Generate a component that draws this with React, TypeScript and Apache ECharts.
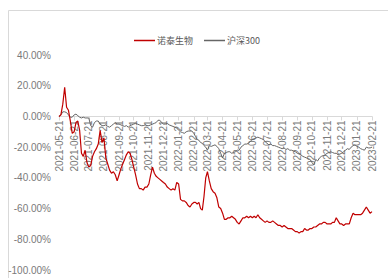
import React, { useEffect, useRef } from "react";
import * as echarts from "echarts";

// Monthly tick dates shown on the x axis
const monthLabels: string[] = [
  "2021-05-21", "2021-06-21", "2021-07-21", "2021-08-21", "2021-09-21", "2021-10-21",
  "2021-11-21", "2021-12-21", "2022-01-21", "2022-02-21", "2022-03-21", "2022-04-21",
  "2022-05-21", "2022-06-21", "2022-07-21", "2022-08-21", "2022-09-21", "2022-10-21",
  "2022-11-21", "2022-12-21", "2023-01-21", "2023-02-21",
];

const seriesNames = ["诺泰生物", "沪深300"];

// 8 readings per month interval (plus the final point), cumulative return in %
const ntValues: number[] = [
  0, 1, 8, 19, 6, 4, -3, -11,
  -10, -4, -3, -9, -24, -26, -22, -30,
  -33, -32, -26, -23, -21, -18, -9, -17,
  -14, -27, -31, -35, -37, -36, -38, -42,
  -38, -34, -31, -28, -25, -23, -24, -28,
  -33, -38, -44, -47, -47, -48, -46, -46,
  -44, -38, -33, -37, -39, -40, -41, -42,
  -43, -44, -46, -47, -48, -47, -48, -43,
  -44, -54, -55, -55, -56, -58, -59, -57,
  -56, -56, -57, -56, -60, -61, -52, -40,
  -36, -42, -47, -49, -50, -53, -59, -60,
  -63, -67, -67, -66, -66, -65, -66, -67,
  -69, -70, -68, -66, -66, -65, -66, -65,
  -66, -65, -66, -64, -66, -67, -68, -69,
  -68, -69, -69, -68, -69, -70, -71, -71,
  -72, -71, -72, -73, -73, -73, -74, -75,
  -75, -76, -75, -75, -73, -74, -74, -73,
  -73, -72, -72, -71, -70, -70, -69, -69,
  -70, -70, -70, -69, -69, -66, -68, -70,
  -70, -71, -70, -70, -70, -66, -63, -64,
  -64, -64, -64, -63, -61, -59, -61, -63,
  -62,
];

const hsValues: number[] = [
  0, 1, 3, 3, 2.5, 1, -0.5, -0.5,
  1, 1.5, 0.5, -0.5, -1, -0.5, -1, -1,
  -1, -6, -7, -4, -3, -3, -5, -6,
  -6, -5.5, -6.5, -7, -6, -5, -4, -5,
  -5, -5.5, -6, -6.5, -6, -7, -6, -5.5,
  -5, -4.5, -5, -5.5, -6, -6, -5.5, -6,
  -6, -5.5, -5, -4.5, -4, -2.5, -2.5, -4,
  -5, -5, -4.5, -5.5, -6, -6.5, -7, -7.5,
  -9, -10, -10.5, -11, -10, -9.5, -9.5, -9.5,
  -11, -13, -15, -15.5, -17, -17.5, -19, -20,
  -22, -19, -19.5, -19, -18.5, -19.5, -21, -24,
  -27, -24, -23.5, -23, -23, -24, -23.5, -23,
  -22, -22, -20, -19, -18, -18, -17.5, -16,
  -15, -14.5, -14, -13.5, -14, -14.5, -15, -16.5,
  -17.5, -18.5, -18, -19, -19, -19.5, -20, -20.5,
  -21, -20.5, -21.5, -21, -22, -22, -22.5, -23,
  -24, -24.5, -25, -26, -26.5, -27, -27.5, -28,
  -30, -31.5, -28, -29, -27, -26, -25.5, -25,
  -24, -23.5, -23, -23.5, -24, -24, -25, -24.5,
  -24, -23, -22, -21, -21.5, -20, -19, -18.5,
  -19.5, -20, -21, -21.5, -22, -20, -20.5, -20.5,
  -20,
];

const STEPS = 8;
const Y_MIN = -100;
const Y_MAX = 40;

function dayOf(s: string): number {
  const [y, m, d] = s.split("-").map(Number);
  return Date.UTC(y, m - 1, d) / 86400000;
}

export default function App() {
  const ref = useRef<HTMLDivElement>(null);
  useEffect(() => {
    if (!ref.current) return;
    const chart = echarts.init(ref.current, undefined, { renderer: "svg" });
    const d0 = dayOf(monthLabels[0]);
    const tickDays = monthLabels.map((s) => dayOf(s) - d0);
    const xs: number[] = [];
    for (let i = 0; i < tickDays.length - 1; i++) {
      for (let j = 0; j < STEPS; j++) {
        xs.push(tickDays[i] + ((tickDays[i + 1] - tickDays[i]) * j) / STEPS);
      }
    }
    xs.push(tickDays[tickDays.length - 1]);
    const ntData = ntValues.map((v, i) => [xs[i], v]);
    const hsData = hsValues.map((v, i) => [xs[i], v]);
    const labelColor = "#7a7a7a";
    const font = "'Liberation Sans', Arial, 'Noto Sans CJK SC', sans-serif";

    const gridTop = 55;
    const gridBottom = 8;
    const plotH = 278 - gridTop - gridBottom;
    // move the x axis up from the grid bottom to the 0% line
    const zeroOffset = -(plotH * (0 - Y_MIN)) / (Y_MAX - Y_MIN);

    chart.setOption({
      animation: false,
      graphic: [
        {
          type: "rect",
          shape: { x: 8.5, y: 10.5, width: 400, height: 300 },
          style: { fill: "none", stroke: "#d9d9d9", lineWidth: 1 },
          silent: true,
          z: -10,
        },
      ],
      legend: {
        data: seriesNames,
        left: 129,
        top: 31,
        icon: "rect",
        itemWidth: 21,
        itemHeight: 1.5,
        itemGap: 11,
        textStyle: {
          fontSize: 9,
          color: "#595959",
          fontFamily: "'Noto Sans CJK SC', 'Liberation Sans', sans-serif",
          padding: [0, 0, 0, -3],
        },
      },
      grid: {
        left: 59,
        right: 16,
        top: gridTop,
        bottom: gridBottom,
        containLabel: false,
        outerBoundsMode: "none",
      },
      xAxis: {
        type: "value",
        min: 0,
        max: tickDays[tickDays.length - 1],
        position: "bottom",
        offset: zeroOffset,
        z: 0,
        splitLine: { show: false },
        axisLine: { show: true, onZero: false, lineStyle: { color: "#d9d9d9", width: 1 } },
        axisTick: {
          show: true,
          customValues: tickDays,
          length: 4,
          lineStyle: { color: "#d9d9d9" },
        },
        axisLabel: {
          customValues: tickDays,
          rotate: 90,
          margin: 4,
          fontSize: 10,
          color: labelColor,
          fontFamily: font,
          hideOverlap: false,
          formatter: (v: number) => {
            const idx = tickDays.findIndex((t) => Math.abs(t - v) < 0.5);
            return idx >= 0 ? monthLabels[idx] : "";
          },
        },
      },
      yAxis: {
        type: "value",
        min: Y_MIN,
        max: Y_MAX,
        interval: 20,
        splitLine: { show: false },
        axisLine: { show: false },
        axisTick: { show: false },
        axisLabel: {
          fontSize: 10,
          color: labelColor,
          fontFamily: font,
          margin: 8,
          formatter: (v: number) => v.toFixed(2) + "%",
        },
      },
      series: [
        {
          name: seriesNames[0],
          type: "line",
          data: ntData,
          symbol: "none",
          lineStyle: { color: "#c00000", width: 1.2 },
          itemStyle: { color: "#c00000" },
          z: 4,
        },
        {
          name: seriesNames[1],
          type: "line",
          data: hsData,
          symbol: "none",
          lineStyle: { color: "#666666", width: 1 },
          itemStyle: { color: "#666666" },
          z: 3,
        },
      ],
    });
    return () => chart.dispose();
  }, []);
  return (
    <div
      ref={ref}
      style={{ position: "absolute", left: 0, top: 0, width: 388, height: 278 }}
    />
  );
}
